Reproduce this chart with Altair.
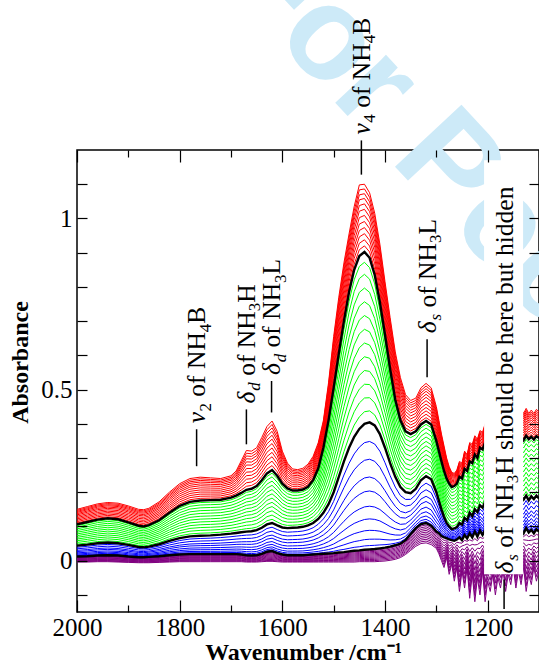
import altair as alt
import pandas as pd

# ---------------- data ----------------
W_SMOOTH = [2000, 1980, 1960, 1940, 1920, 1900, 1880, 1870, 1860, 1840, 1820, 1800,
            1780, 1760, 1740, 1720, 1700] + list(range(1690, 1299, -10))
W_NOISY = list(range(1295, 1099, -5))
WAVENUMBER = W_SMOOTH + W_NOISY

# top red spectrum
RED_TOP = [0.150, 0.158, 0.166, 0.170, 0.168, 0.160, 0.150, 0.149, 0.153, 0.172, 0.200, 0.225,
           0.240, 0.244, 0.242, 0.240, 0.248,
           0.262, 0.292, 0.322, 0.320, 0.330, 0.360, 0.392, 0.408, 0.378, 0.320,
           0.285, 0.268, 0.266, 0.270, 0.282, 0.305, 0.345, 0.410, 0.520, 0.655,
           0.770, 0.870, 0.955, 1.035, 1.098, 1.100, 1.075, 1.015, 0.925, 0.815,
           0.710, 0.610, 0.535, 0.485, 0.468, 0.475, 0.505, 0.518, 0.505, 0.450,
           0.410, 0.370, 0.335, 0.300, 0.275, 0.258, 0.255, 0.265, 0.290, 0.285,
           0.320, 0.310, 0.345, 0.340, 0.365, 0.355, 0.380, 0.375, 0.400, 0.390,
           0.420, 0.405, 0.430, 0.415, 0.435, 0.420, 0.440, 0.425, 0.440, 0.425,
           0.440, 0.428, 0.445, 0.430, 0.445, 0.430, 0.440, 0.430, 0.442, 0.435]
# black spectrum between green and red
BLACK_3 = [0.106, 0.113, 0.120, 0.124, 0.121, 0.112, 0.102, 0.100, 0.104, 0.118, 0.140, 0.160,
           0.172, 0.176, 0.177, 0.178, 0.184,
           0.190, 0.198, 0.207, 0.210, 0.218, 0.235, 0.255, 0.265, 0.248, 0.225,
           0.211, 0.205, 0.205, 0.208, 0.216, 0.235, 0.270, 0.330, 0.410, 0.505,
           0.605, 0.700, 0.785, 0.850, 0.890, 0.902, 0.885, 0.835, 0.755, 0.660,
           0.560, 0.470, 0.410, 0.378, 0.370, 0.378, 0.398, 0.408, 0.398, 0.350,
           0.320, 0.290, 0.262, 0.240, 0.225, 0.215, 0.218, 0.225, 0.245, 0.240,
           0.268, 0.262, 0.290, 0.285, 0.310, 0.300, 0.330, 0.325, 0.345, 0.338,
           0.355, 0.345, 0.360, 0.350, 0.362, 0.352, 0.362, 0.350, 0.360, 0.352,
           0.365, 0.352, 0.362, 0.352, 0.365, 0.355, 0.362, 0.354, 0.364, 0.358]
# black spectrum between blue and green
BLACK_2 = [0.044, 0.047, 0.051, 0.053, 0.051, 0.046, 0.040, 0.039, 0.041, 0.048, 0.058, 0.066,
           0.071, 0.073, 0.074, 0.076, 0.079,
           0.081, 0.083, 0.085, 0.086, 0.089, 0.096, 0.106, 0.110, 0.103, 0.097,
           0.095, 0.096, 0.097, 0.099, 0.103, 0.110, 0.122, 0.140, 0.165, 0.200,
           0.245, 0.290, 0.330, 0.362, 0.385, 0.400, 0.404, 0.395, 0.370, 0.330,
           0.285, 0.245, 0.215, 0.200, 0.197, 0.210, 0.235, 0.247, 0.238, 0.200,
           0.175, 0.150, 0.128, 0.110, 0.100, 0.092, 0.094, 0.098, 0.110, 0.105,
           0.125, 0.118, 0.140, 0.130, 0.150, 0.142, 0.162, 0.155, 0.172, 0.165,
           0.180, 0.170, 0.185, 0.172, 0.185, 0.175, 0.188, 0.175, 0.185, 0.178,
           0.190, 0.176, 0.188, 0.178, 0.190, 0.176, 0.188, 0.180, 0.190, 0.182]
# black spectrum between purple and blue
BLACK_1 = [0.012, 0.013, 0.015, 0.016, 0.015, 0.012, 0.010, 0.010, 0.011, 0.013, 0.016, 0.018,
           0.019, 0.019, 0.019, 0.019, 0.019,
           0.019, 0.018, 0.016, 0.015, 0.016, 0.020, 0.026, 0.028, 0.022, 0.018,
           0.016, 0.016, 0.016, 0.016, 0.017, 0.018, 0.019, 0.020, 0.021, 0.022,
           0.024, 0.025, 0.027, 0.029, 0.030, 0.032, 0.033, 0.034, 0.036, 0.038,
           0.041, 0.045, 0.050, 0.060, 0.078, 0.095, 0.107, 0.110, 0.102, 0.085,
           0.080, 0.072, 0.068, 0.066, 0.062, 0.060, 0.058, 0.062, 0.068, 0.060,
           0.075, 0.065, 0.080, 0.068, 0.085, 0.070, 0.088, 0.075, 0.090, 0.078,
           0.092, 0.080, 0.090, 0.078, 0.092, 0.080, 0.090, 0.078, 0.092, 0.082,
           0.090, 0.078, 0.092, 0.080, 0.095, 0.082, 0.090, 0.080, 0.092, 0.085]
# lowest purple spectrum
PURPLE_LOW = [-0.004, -0.004, -0.003, -0.003, -0.004, -0.005, -0.006, -0.006, -0.006, -0.005, -0.004, -0.003,
              -0.003, -0.003, -0.003, -0.003, -0.003,
              -0.003, -0.003, -0.004, -0.004, -0.004, -0.003, -0.002, -0.002, -0.003, -0.004,
              -0.004, -0.004, -0.004, -0.004, -0.004, -0.004, -0.004, -0.004, -0.004, -0.004,
              -0.004, -0.004, -0.004, -0.004, -0.003, -0.003, -0.003, -0.003, -0.002, -0.001,
              0.001, 0.004, 0.009, 0.018, 0.030, 0.042, 0.050, 0.052, 0.047, 0.036,
              0.020, 0.000, -0.020, 0.010, -0.040, -0.010, -0.060, -0.020, -0.090, -0.030,
              -0.080, -0.020, -0.110, -0.040, -0.120, -0.050, -0.100, -0.030, -0.120, -0.060,
              -0.090, -0.040, -0.100, -0.050, -0.080, -0.030, -0.090, -0.040, -0.070, -0.020,
              -0.080, -0.030, -0.070, -0.020, -0.090, -0.040, -0.070, -0.020, -0.060, -0.030]

# relative position of each coloured spectrum between the two bounding spectra of its group
PURPLE_POS = [0.0, 0.09, 0.18, 0.27, 0.36, 0.45, 0.54, 0.63, 0.72, 0.81, 0.90]
BLUE_POS = [0.03, 0.08, 0.15, 0.24, 0.34, 0.46, 0.57, 0.71, 0.85]
GREEN_POS = [0.07, 0.15, 0.23, 0.31, 0.39, 0.47, 0.55, 0.63, 0.71, 0.79, 0.87, 0.94]
RED_POS = [0.09, 0.18, 0.27, 0.36, 0.45, 0.54, 0.63, 0.71, 0.79, 0.86, 0.93, 1.0]

GROUP_NAMES = ["purple", "blue", "green", "red"]
GROUP_COLORS = ["#800080", "#0000ff", "#00ff00", "#ff0000"]

X_MAJOR = [2000, 1800, 1600, 1400, 1200]
X_MINOR = [1900, 1700, 1500, 1300, 1100]
Y_TICKS = [-0.1, 0, 0.1, 0.2, 0.3, 0.4, 0.5, 0.6, 0.7, 0.8, 0.9, 1, 1.1]

# annotations: wavenumber, leader line from / to (absorbance), text pieces
ANNOT_W = [1767, 1670, 1621, 1446, 1318, 1168]
ANNOT_LO = [0.276, 0.340, 0.433, 1.128, 0.536, -0.141]
ANNOT_HI = [0.384, 0.442, 0.525, 1.228, 0.647, -0.055]
ANNOT_SEGS = [
    [("ν", "it"), ("2", "sub"), (" of NH", "rm"), ("4", "sub"), ("B", "rm")],
    [("δ", "it"), ("d", "subit"), (" of NH", "rm"), ("3", "sub"), ("H", "rm")],
    [("δ", "it"), ("d", "subit"), (" of NH", "rm"), ("3", "sub"), ("L", "rm")],
    [("ν", "it"), ("4", "sub"), (" of NH", "rm"), ("4", "sub"), ("B", "rm")],
    [("δ", "it"), ("s", "subit"), (" of NH", "rm"), ("3", "sub"), ("L", "rm")],
    [("δ", "it"), ("s", "subit"), (" of NH", "rm"), ("3", "sub"), ("H should be here but hidden", "rm")],
]
# white box that hides the spectra behind the last annotation
BOX_W = [1207, 1131]
BOX_A = [-0.04, 1.17]

WATERMARK = "For Peer Review"

# ---------------- build tables ----------------
rows = []
bounds = [(PURPLE_LOW, BLACK_1, PURPLE_POS), (BLACK_1, BLACK_2, BLUE_POS),
          (BLACK_2, BLACK_3, GREEN_POS), (BLACK_3, RED_TOP, RED_POS)]
for gname, (lo, hi, poss) in zip(GROUP_NAMES, bounds):
    for i, t in enumerate(poss):
        for w, a, b in zip(WAVENUMBER, lo, hi):
            rows.append({"w": w, "a": (1 - t) * a + t * b, "line": f"{gname}{i}", "group": gname})
colored = pd.DataFrame(rows)

brows = []
for name, arr in [("k1", BLACK_1), ("k2", BLACK_2), ("k3", BLACK_3)]:
    for w, a in zip(WAVENUMBER, arr):
        brows.append({"w": w, "a": a, "line": name})
blacks = pd.DataFrame(brows)

box = pd.DataFrame({"w1": [BOX_W[0]], "w2": [BOX_W[1]], "a1": [BOX_A[0]], "a2": [BOX_A[1]]})
leaders = pd.DataFrame({"w": ANNOT_W, "lo": ANNOT_LO, "hi": ANNOT_HI})

# ---------------- scales / axes ----------------
SERIF = "Liberation Serif"
xs = alt.Scale(domain=[1100, 2000], reverse=True, nice=False, zero=False)
ys = alt.Scale(domain=[-0.15, 1.2], nice=False, zero=False)

tick_common = dict(domain=False, grid=False, tickColor="black", tickWidth=1.2, zindex=1)

ax_bottom = alt.Axis(orient="bottom", values=X_MAJOR, tickSize=12, offset=-12, format="d",
                     labelFont=SERIF, labelFontSize=25, labelColor="black", labelPadding=3,
                     labelFlush=False, labelOverlap=False,
                     title="Wavenumber /cm⁻¹", titleFont=SERIF, titleFontSize=24,
                     titleFontWeight="bold", titleColor="black", titlePadding=0, titleX=226,
                     **tick_common)
ax_bottom_minor = alt.Axis(orient="bottom", values=X_MINOR, tickSize=7, offset=-7,
                           labels=False, title=None, **tick_common)
ax_top = alt.Axis(orient="top", values=X_MAJOR, tickSize=12, offset=-12, labels=False,
                  title=None, **tick_common)
ax_top_minor = alt.Axis(orient="top", values=X_MINOR, tickSize=7, offset=-7, labels=False,
                        title=None, **tick_common)
ax_left = alt.Axis(orient="left", values=Y_TICKS, tickSize=10, offset=-10,
                   labelExpr="datum.value == 0 ? '0' : datum.value == 0.5 ? '0.5' : datum.value == 1 ? '1' : ''",
                   labelFont=SERIF, labelFontSize=25, labelColor="black", labelPadding=5,
                   labelFlush=False, labelOverlap=False,
                   title="Absorbance", titleFont=SERIF, titleFontSize=24, titleFontWeight="bold",
                   titleColor="black", titlePadding=8, titleY=212, **tick_common)
ax_right = alt.Axis(orient="right", values=Y_TICKS, tickSize=10, offset=-10, labels=False,
                    title=None, **tick_common)

# ---------------- layers ----------------
wm = alt.Chart(pd.DataFrame({"t": [WATERMARK]})).mark_text(
    angle=47, align="left", baseline="alphabetic", font="Liberation Sans", fontWeight="bold",
    fontSize=132, color="#cdeaf8"
).encode(text="t:N", x=alt.value(142), y=alt.value(-172))

col_lines = alt.Chart(colored).mark_line(strokeWidth=1).encode(
    x=alt.X("w:Q", scale=xs, axis=ax_bottom),
    y=alt.Y("a:Q", scale=ys, axis=ax_left),
    color=alt.Color("group:N", scale=alt.Scale(domain=GROUP_NAMES, range=GROUP_COLORS), legend=None),
    detail="line:N",
    order=alt.Order("w:Q"),
)

blk_lines = alt.Chart(blacks).mark_line(strokeWidth=2.4, color="black").encode(
    x=alt.X("w:Q", scale=xs, axis=ax_top),
    y=alt.Y("a:Q", scale=ys, axis=ax_right),
    detail="line:N",
    order=alt.Order("w:Q"),
)

box_layer = alt.Chart(box).mark_rect(color="white").encode(
    x=alt.X("w1:Q", scale=xs, axis=ax_bottom_minor), x2="w2:Q",
    y=alt.Y("a1:Q", scale=ys, axis=None), y2="a2:Q",
)

leader_layer = alt.Chart(leaders).mark_rule(color="black", strokeWidth=1.5).encode(
    x=alt.X("w:Q", scale=xs, axis=ax_top_minor),
    y=alt.Y("lo:Q", scale=ys, axis=None), y2="hi:Q",
)

F = 25.5
FS = 17
CHAR_W = {"ν": 0.46, "δ": 0.5, "d": 0.5, "s": 0.39, "2": 0.5, "3": 0.5, "4": 0.5, " ": 0.25,
          "o": 0.5, "f": 0.333, "N": 0.722, "H": 0.722, "B": 0.667, "L": 0.611}
GAP = 6
DY_MAIN = 8.5
DY_SUB = 14

text_layers = []
for k in range(len(ANNOT_W)):
    pos = GAP
    for txt, kind in ANNOT_SEGS[k]:
        is_sub = kind.startswith("sub")
        size = FS if is_sub else F
        lead = len(txt) - len(txt.lstrip(" "))
        pos += lead * CHAR_W[" "] * size
        shown = txt.strip(" ")
        seg_df = pd.DataFrame({"w": [ANNOT_W[k]], "a": [ANNOT_HI[k]], "t": [shown]})
        text_layers.append(
            alt.Chart(seg_df).mark_text(
                angle=270, align="left", baseline="alphabetic", dx=pos,
                dy=DY_SUB if is_sub else DY_MAIN, font=SERIF, fontSize=size,
                fontStyle="italic" if kind in ("it", "subit") else "normal", color="black",
            ).encode(
                x=alt.X("w:Q", scale=xs, axis=None),
                y=alt.Y("a:Q", scale=ys, axis=None),
                text="t:N",
            )
        )
        if len(shown) < 8:
            pos += sum(CHAR_W.get(c, 0.5) for c in shown) * size

chart = alt.layer(wm, col_lines, blk_lines, box_layer, leader_layer, *text_layers).resolve_axis(
    x="independent", y="independent"
).properties(
    width=462, height=462,
    autosize=alt.AutoSizeParams(type="none"),
    padding={"left": 77, "top": 150, "right": 0, "bottom": 58},
    background="white",
).configure_view(stroke="black", strokeWidth=1.5)

chart.save("out.html", embed_options={"renderer": "svg", "actions": False})
